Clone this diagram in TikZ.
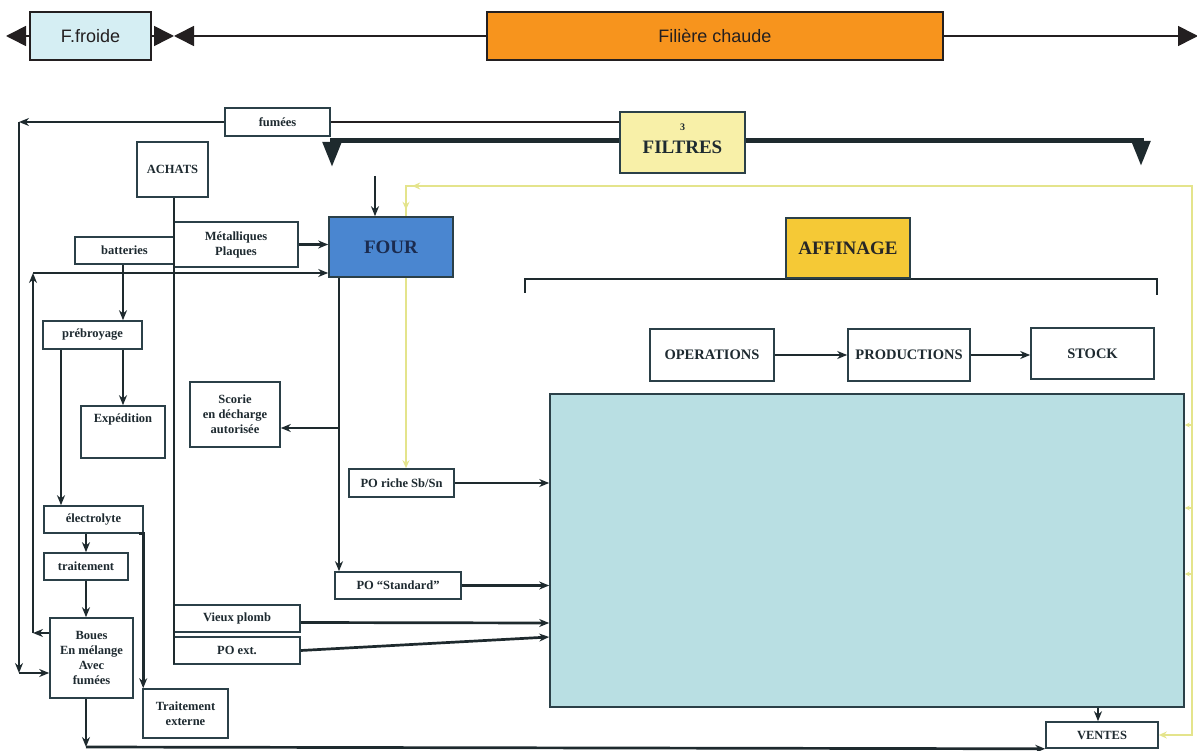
\documentclass[tikz,border=0pt]{standalone}
\usepackage{fontspec}
\setmainfont{Liberation Serif}
\newfontfamily\sansf{Liberation Sans}
\usetikzlibrary{arrows.meta,backgrounds,decorations.markings}
\definecolor{froidec}{HTML}{D5EEF3}
\definecolor{orangec}{HTML}{F7941D}
\definecolor{topc}{HTML}{231F20}
\definecolor{boxc}{HTML}{2B4048}
\definecolor{linec}{HTML}{1E2A2E}
\definecolor{txtc}{HTML}{1E2A30}
\definecolor{fourc}{HTML}{4A86D0}
\definecolor{fourtxt}{HTML}{1B2B4F}
\definecolor{filtc}{HTML}{F8F0A8}
\definecolor{affc}{HTML}{F5C936}
\definecolor{bigc}{HTML}{B9DFE3}
\definecolor{yelc}{HTML}{E4E48C}
\begin{document}
\begin{tikzpicture}[x=1pt,y=-1pt,
  topbox/.style={draw=topc, line width=1.5pt, inner sep=0pt, font=\sansf\fontsize{18}{20}\selectfont, text=topc},
  topl/.style={draw=topc, line width=1.6pt},
  ttip/.style={-{Triangle[length=20pt,width=20pt]}},
  box/.style={draw=boxc, line width=1.6pt, fill=white, inner sep=0pt, align=center,
    font=\bfseries\fontsize{12.5}{15}\selectfont, text=txtc},
  bigfont/.style={font=\bfseries\fontsize{19}{20}\selectfont},
  midfont/.style={font=\bfseries\fontsize{14.5}{16}\selectfont},
  conn/.style={draw=linec, line width=2.7pt, -{Stealth[length=10pt,width=8pt]}},
  plainl/.style={draw=linec, line width=2.7pt},
  thickl/.style={draw=linec, line width=5pt, line join=miter, -{Triangle[length=25pt,width=18pt]}},
  yel/.style={draw=yelc, line width=2.2pt},
]
\useasboundingbox (0,0) rectangle (1197,751);

% ---------- top bar ----------
\node[topbox, fill=froidec, minimum width=121pt, minimum height=48pt] (froide) at (90.5,36) {F.froide};
\node[topbox, fill=orangec, minimum width=456pt, minimum height=48pt] (chaude) at (715,36) {Filière chaude};
\coordinate (tl) at (6,36);
\coordinate (tm) at (174,36);
\coordinate (tr) at (1198,36);
\draw[topl, ttip] (froide.west) -- (tl);
\draw[topl, ttip] (froide.east) -- (tm);
\draw[topl, {Triangle[length=20pt,width=20pt]}-] (tm) -- (chaude.west);
\draw[topl, ttip] (chaude.east) -- (tr);

% ---------- nodes ----------
\node[box, minimum width=105pt, minimum height=28pt] (fumees) at (277.5,122) {fumées};
\node[box, fill=filtc, minimum width=125pt, minimum height=61pt,
  label={[anchor=center, yshift=15.5pt, font=\bfseries\fontsize{10}{10}\selectfont, text=txtc]center:3},
  label={[anchor=center, yshift=-4.5pt, font=\bfseries\fontsize{19}{20}\selectfont, text=txtc]center:FILTRES}] (filtres) at (682.5,142.5) {};
\node[box, minimum width=71pt, minimum height=55pt] (achats) at (172.5,169.5) {ACHATS};
\node[box, minimum width=124pt, minimum height=45pt] (metal) at (236,244.5) {Métalliques\\Plaques};
\node[box, minimum width=99pt, minimum height=27pt] (batteries) at (124.5,250.5) {batteries};
\node[box, minimum width=99pt, minimum height=28pt] (prebroy) at (92.5,335) {prébroyage};
\node[box, minimum width=84pt, minimum height=52pt,
  label={[anchor=north, yshift=-5pt, font=\bfseries\fontsize{12.5}{15}\selectfont, text=txtc]north:Expédition}] (exped) at (123,432) {};
\node[box, minimum width=90pt, minimum height=65pt] (scorie) at (235,414.5) {Scorie\\en décharge\\autorisée};
\node[box, minimum width=99pt, minimum height=27pt] (elec) at (93.5,519.5) {électrolyte};
\node[box, minimum width=84pt, minimum height=27pt] (trait) at (86,566.5) {traitement};
\node[box, minimum width=83pt, minimum height=80pt] (boues) at (91.5,658) {Boues\\En mélange\\Avec\\fumées};
\node[box, minimum width=85pt, minimum height=49pt] (trext) at (185.5,713.5) {Traitement\\externe};
\node[box, minimum width=126pt, minimum height=27pt] (vieux) at (237,618.5) {Vieux plomb};
\node[box, minimum width=126pt, minimum height=27pt] (poext) at (237,650.5) {PO ext.};
\node[box, minimum width=105pt, minimum height=28pt] (poriche) at (401.5,483) {PO riche Sb/Sn};
\node[box, minimum width=126pt, minimum height=27pt] (postd) at (398,585.5) {PO “Standard”};
\node[box, fill=bigc, minimum width=634pt, minimum height=313pt] (big) at (867,550.5) {};
\node[box, midfont, minimum width=124pt, minimum height=52pt] (oper) at (712,355) {OPERATIONS};
\node[box, midfont, minimum width=122pt, minimum height=52pt] (prod) at (909,355) {PRODUCTIONS};
\node[box, midfont, minimum width=123pt, minimum height=51pt] (stock) at (1092.5,353.5) {STOCK};
\node[box, minimum width=112pt, minimum height=26pt] (ventes) at (1102,735) {VENTES};

% ---------- yellow loop (behind) ----------
\begin{pgfonlayer}{background}
\coordinate (yB) at (1192,735);
\coordinate (yT) at (1192,186);
\coordinate (yL) at (406,186);
\draw[yel, {Stealth[length=8pt,width=7pt]}-{Stealth[length=8pt,width=7pt]},
  postaction={decorate, decoration={markings,
    mark=at position 1362pt with {\arrow{Stealth[length=8pt,width=7pt]}},
    mark=at position 1392pt with {\arrow{Stealth[length=8pt,width=7pt]}}}}]
  (ventes.east) -- (yB) -- (yT) -- (yL) -- (poriche.north -| yL);
\foreach \yy in {425,508,574}
  \draw[yel, line width=1.5pt, -{Stealth[length=5pt,width=5pt]}] (yT |- 0,\yy) -- (big.east |- 0,\yy);
\end{pgfonlayer}

\node[box, fill=fourc, bigfont, text=fourtxt, minimum width=124pt, minimum height=60pt] (four) at (391,247) {FOUR};

% bracket + AFFINAGE
\coordinate (brL) at (525,293);
\coordinate (brR) at (1157,295);
\draw[plainl] (brL) -- (525,279) -- (1157,279) -- (brR);
\node[box, fill=affc, bigfont, text=black!85, minimum width=124pt, minimum height=60pt] (affinage) at (848,248) {AFFINAGE};

% ---------- connectors ----------
% fumees loop to Boues
\coordinate (fA) at (19,122);
\coordinate (fB) at (19,673);
\draw[conn] (fumees.west) -- (fA);
\draw[conn] (fA) -- (fB);
\draw[conn] (fB) -- (boues.west |- fB);
% Boues back to FOUR
\coordinate (bA) at (33,633);
\coordinate (bB) at (33,273);
\draw[conn] (boues.west |- bA) -- (bA);
\draw[conn] (bA) -- (bB);
\draw[conn] (bB) -- (four.west |- bB);
% filtres
\draw[topl, line width=2.2pt] (filtres.west |- fumees.east) -- (fumees.east);
\coordinate (thL) at (332,167);
\coordinate (thR) at (1141,166);
\draw[thickl] ([yshift=1.5pt]filtres.west) -| (thL);
\draw[thickl] ([yshift=1.5pt]filtres.east) -| (thR);
% achats trunk
\coordinate (achbot) at (174,664);
\draw[plainl] (achats.south -| achbot) -- (achbot);
% into FOUR
\draw[conn] (metal.east) -- (four.west |- metal.east);
\coordinate (fourin) at (375,176);
\draw[conn] (fourin) -- (four.north -| fourin);
% batteries chain
\draw[conn] (batteries.south -| 123,0) -- (prebroy.north -| 123,0);
\draw[conn] (prebroy.south -| 123,0) -- (exped.north -| 123,0);
\draw[conn] (prebroy.south -| 61,0) -- (elec.north -| 61,0);
\draw[conn] (elec.south -| 86,0) -- (trait.north -| 86,0);
\draw[conn] (trait.south -| 86,0) -- (boues.north -| 86,0);
\draw[conn] ([xshift=-5pt]elec.south east) -| ([xshift=1pt]trext.north west);
% boues to ventes
\coordinate (bv) at (86,747);
\draw[conn] (boues.south -| bv) -- (bv);
\draw[conn] (bv) -- (ventes.south west);
% four down
\draw[conn] (four.south -| 339,0) -- (postd.north -| 339,0);
\draw[conn] (339,428) -- (scorie.east |- 0,428);
% into big box
\draw[conn] (poriche.east) -- (big.west |- poriche.east);
\draw[conn] (postd.east) -- (big.west |- postd.east);
\draw[conn] ([yshift=-4pt]vieux.east) -- (big.west |- 0,623);
\draw[conn] (poext.east) -- (big.west |- 0,637);
% affinage row
\draw[conn] (oper.east) -- (prod.west);
\draw[conn] (prod.east) -- (stock.west |- prod.east);
\draw[conn] (big.south -| 1098,0) -- (ventes.north -| 1098,0);
\end{tikzpicture}
\end{document}
